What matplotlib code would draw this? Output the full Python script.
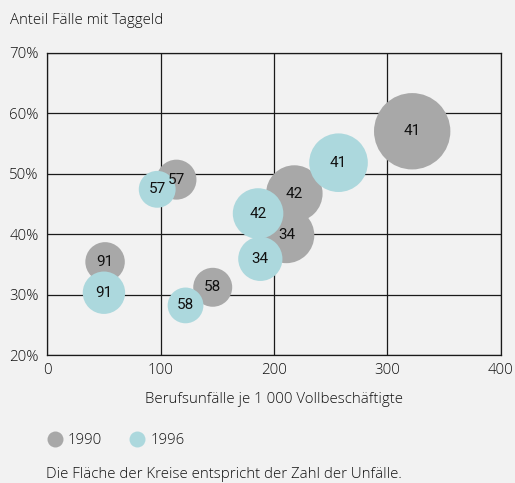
import matplotlib
matplotlib.use("Agg")
import matplotlib.pyplot as plt
from matplotlib.lines import Line2D

plt.rcParams['font.family'] = ['Open Sans', 'DejaVu Sans']
plt.rcParams['font.weight'] = 'light'
plt.rcParams['axes.labelweight'] = 'light'

# Daten: Berufsunfälle je 1000 Vollbeschäftigte, Anteil Fälle mit Taggeld (%),
# Zahl der Unfälle (relative Fläche), Branchencode
codes_1990 = ['41', '42', '34', '57', '91', '58']
x_1990 = [322, 218, 211, 114, 51, 146]
y_1990 = [57.0, 46.7, 39.8, 49.0, 35.4, 31.2]
n_1990 = [146, 80, 78, 40, 39, 38]

codes_1996 = ['41', '42', '34', '57', '91', '58']
x_1996 = [257, 186, 188, 97, 50, 122]
y_1996 = [51.8, 43.4, 35.9, 47.4, 30.3, 28.2]
n_1996 = [86, 64, 49, 34, 45, 32]

x_ticks = [0, 100, 200, 300, 400]
y_ticks = [20, 30, 40, 50, 60, 70]

bg = '#f2f2f2'
grey = '#a8a8a8'
cyan = '#acd8dd'
txt = '#111111'
scale = 20.7  # pt^2 per unit
fs = 10.8

fig = plt.figure(figsize=(5.15, 4.83), dpi=100, facecolor=bg)
ax = fig.add_axes([0.0918, 0.265, 0.8802, 0.626])
ax.set_facecolor(bg)

ax.scatter(x_1990, y_1990, s=[v * scale for v in n_1990], c=grey,
           linewidths=0, zorder=3)
ax.scatter(x_1996, y_1996, s=[v * scale for v in n_1996], c=cyan,
           linewidths=0, zorder=4)
for xs, ys, cs in ((x_1990, y_1990, codes_1990), (x_1996, y_1996, codes_1996)):
    for xv, yv, c in zip(xs, ys, cs):
        ax.text(xv, yv, c, ha='center', va='center', fontsize=11,
                family=['Roboto', 'DejaVu Sans'], weight='normal',
                color=txt, zorder=5)

ax.set_xlim(0, 400)
ax.set_ylim(20, 70)
ax.set_xticks(x_ticks)
ax.set_yticks(y_ticks)
ax.set_yticklabels([f'{v}%' for v in y_ticks])
ax.tick_params(length=0, labelsize=fs, labelcolor=txt, pad=6)
ax.grid(True, color='#1a1a1a', linewidth=0.9, zorder=1)
ax.set_axisbelow(True)
for sp in ax.spines.values():
    sp.set_color('#1a1a1a')
    sp.set_linewidth(0.9)

ax.set_xlabel('Berufsunfälle je 1 000 Vollbeschäftigte', fontsize=fs,
              color=txt, labelpad=10)
fig.text(10 / 515, 1 - 20 / 483, 'Anteil Fälle mit Taggeld', fontsize=fs,
         color=txt, va='center', ha='left')

handles = [Line2D([], [], marker='o', ls='', markersize=11.5, color=grey,
                  markeredgewidth=0, label='1990'),
           Line2D([], [], marker='o', ls='', markersize=11.5, color=cyan,
                  markeredgewidth=0, label='1996')]
fig.legend(handles=handles, loc='center left', bbox_to_anchor=(32 / 515, 1 - 441 / 483),
           ncol=2, frameon=False, fontsize=fs, handletextpad=0.3,
           columnspacing=1.7, labelcolor=txt, handlelength=1.2)

fig.text(46 / 515, 1 - 474 / 483, 'Die Fläche der Kreise entspricht der Zahl der Unfälle.',
         fontsize=fs, color=txt, va='center', ha='left')

fig.savefig('out.png', dpi=100, facecolor=bg)
